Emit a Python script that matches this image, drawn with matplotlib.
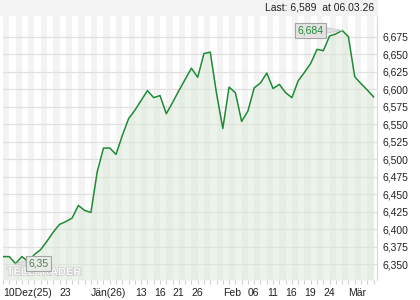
import matplotlib
matplotlib.use("Agg")
import matplotlib.pyplot as plt
import matplotlib.patheffects as pe
from matplotlib.patches import Rectangle
from matplotlib.ticker import FuncFormatter

# closing price per trading day, 10.12.25 .. 06.03.26
prices = [6.361, 6.361, 6.351, 6.361, 6.354, 6.364, 6.371, 6.383, 6.396, 6.407,
          6.411, 6.416, 6.434, 6.427, 6.424, 6.482, 6.516, 6.516, 6.507, 6.534,
          6.558, 6.570, 6.584, 6.598, 6.588, 6.591, 6.565, 6.581, 6.598, 6.614,
          6.630, 6.617, 6.651, 6.653, 6.594, 6.544, 6.603, 6.595, 6.554, 6.569,
          6.602, 6.609, 6.623, 6.601, 6.607, 6.595, 6.588, 6.612, 6.624, 6.637,
          6.657, 6.655, 6.676, 6.679, 6.684, 6.675, 6.618, 6.608, 6.599, 6.589]
days = list(range(len(prices)))

# x labels: trading-day index -> text
label_days = [0, 9, 14, 21, 24, 27, 30, 35, 39, 42, 45, 48, 51, 55]
label_text = ["10Dez(25)", "23", "Jän(26)", "13", "16", "21", "26",
              "Feb", "06", "11", "16", "19", "24", "Mär"]

y_ticks = [6.350, 6.375, 6.400, 6.425, 6.450, 6.475, 6.500, 6.525,
           6.550, 6.575, 6.600, 6.625, 6.650, 6.675]

last_text = "Last: 6,589  at 06.03.26"
max_label = "6,684"
min_label = "6,35"

line_col = "#1e8a36"
plt.rcParams["font.family"] = ["Liberation Sans", "DejaVu Sans"]

fig = plt.figure(figsize=(4.2, 3.0), dpi=100)
ax = fig.add_axes([3 / 420, 20 / 300, 374 / 420, 265 / 300])

ylo, yhi = 6.3276, 6.706
ax.set_xlim(0, 59.55)
ax.set_ylim(ylo, yhi)

# alternating day stripes
for k in range(0, 60, 2):
    ax.axvspan(k, k + 1, color="#f3f3f3", lw=0, zorder=0)

for v in y_ticks:
    ax.axhline(v, color="#e0e0e0", lw=0.9, zorder=1)

ax.fill_between(days, prices, ylo, color="#dbe8d6", alpha=0.5, lw=0, zorder=2)
ax.plot(days, prices, color=line_col, lw=1.1, zorder=3)

# watermark
ax.text(0.6, 6.3345, "TELETRADER", fontsize=8, fontweight="bold", color="white",
        alpha=0.9, zorder=4,
        path_effects=[pe.withStroke(linewidth=1.0, foreground="#c4c4c4")])

# max / min markers
imax = prices.index(max(prices))
imin = prices.index(min(prices))
ax.annotate(max_label, xy=(imax, prices[imax]), xytext=(-32, 0),
            textcoords="offset points", color=line_col, fontsize=7.5,
            va="center", ha="left", zorder=5,
            bbox=dict(boxstyle="square,pad=0.25", fc="#e3e3e3", ec="#a5a5a5", lw=0.8),
            arrowprops=dict(arrowstyle="wedge,tail_width=0.5", fc="#e3e3e3",
                            ec="#c8c8c8", lw=0.6, shrinkA=0, shrinkB=0))
ax.annotate(min_label, xy=(imin, prices[imin]), xytext=(9.5, 0),
            textcoords="offset points", color="#4d7a55", fontsize=7.5,
            va="center", ha="left", zorder=5,
            bbox=dict(boxstyle="square,pad=0.25", fc="#e8ece6", ec="#a5a5a5", lw=0.8),
            arrowprops=dict(arrowstyle="wedge,tail_width=0.5", fc="#e3e3e3",
                            ec="#c8c8c8", lw=0.6, shrinkA=0, shrinkB=0))

# axes styling
for s in ["top", "left", "bottom"]:
    ax.spines[s].set_visible(False)
ax.spines["right"].set_color("#d8d8d8")
ax.spines["right"].set_linewidth(0.8)

ax.yaxis.tick_right()
ax.set_yticks(y_ticks)
ax.yaxis.set_major_formatter(FuncFormatter(lambda v, p: f"{v:.3f}".replace(".", ",")))
ax.tick_params(axis="y", length=0, pad=4, labelsize=7.5, labelcolor="#222222")

ax.set_xticks(label_days)
ax.set_xticklabels(label_text, ha="left")
ax.set_xticks(days, minor=True)
ax.tick_params(axis="x", which="both", length=3, color="#cfcfcf", width=0.8,
               labelsize=7.5, labelcolor="#222222", pad=3)

# header band
fig.patches.append(Rectangle((0, 1 - 15 / 300), 377 / 420, 15 / 300,
                             transform=fig.transFigure, color="#f3f3f3", zorder=0))
fig.text(374 / 420, 1 - 8 / 300, last_text, ha="right", va="center",
         fontsize=7.5, color="#222222")

fig.savefig("out.png", dpi=100)
